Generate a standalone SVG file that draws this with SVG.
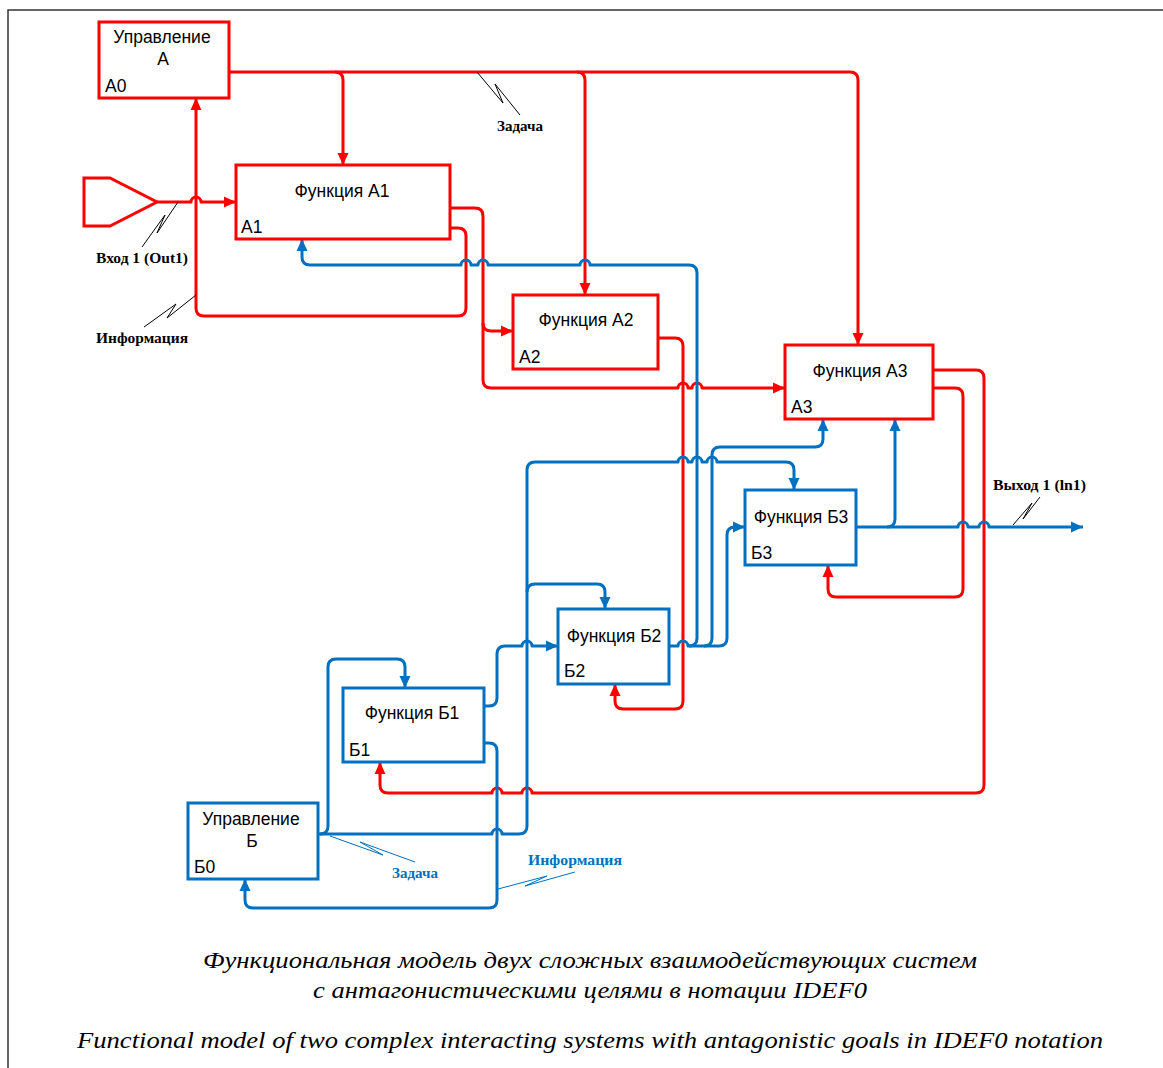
<svg xmlns="http://www.w3.org/2000/svg" width="1163" height="1068" viewBox="0 0 1163 1068">
<defs>
<style>
.box{fill:#fff;stroke-width:3}
.ra{stroke:#FF0000}
.ba{stroke:#0070C0}
.ln{fill:none;stroke-width:3;stroke-linejoin:round}
.r{stroke:#FF0000}
.b{stroke:#0070C0}
.t{font-family:"Liberation Sans",Arial,sans-serif;font-size:17.5px;fill:#000}
.c{text-anchor:middle}
.lbl{font-family:"Liberation Serif","Times New Roman",serif;font-weight:bold;font-size:14px;fill:#000}
.lblb{fill:#0070C0}
.sq{fill:none;stroke:#000;stroke-width:1}
.sqb{stroke:#0070C0}
.cap{font-family:"Liberation Serif","Times New Roman",serif;font-style:italic;font-size:24px;fill:#000;text-anchor:middle}
</style>
<marker id="mr" viewBox="0 0 12 12" refX="12" refY="6" markerWidth="12" markerHeight="12" markerUnits="userSpaceOnUse" orient="auto"><path d="M0,0.5 L12,6 L0,11.5 z" fill="#FF0000"/></marker>
<marker id="mb" viewBox="0 0 12 12" refX="12" refY="6" markerWidth="12" markerHeight="12" markerUnits="userSpaceOnUse" orient="auto"><path d="M0,0.5 L12,6 L0,11.5 z" fill="#0070C0"/></marker>
</defs>
<rect width="1163" height="1068" fill="#fff"/>
<path d="M8,1068 V10 H1163" fill="none" stroke="#333" stroke-width="1.5"/>

<g id="connectors">
<!-- A0 control outputs -->
<path class="ln r" d="M229,72 H850 Q858,72 858,80 V345" marker-end="url(#mr)"/>
<path class="ln r" d="M335,72 Q343,72 343,80 V165" marker-end="url(#mr)"/>
<path class="ln r" d="M577,72 Q585,72 585,80 V295" marker-end="url(#mr)"/>
<!-- input -->
<path class="ln r" d="M157,202 H191 a5,5 0 0 1 10,0 H236" marker-end="url(#mr)"/>
<!-- A1 lower output: information to A0 -->
<path class="ln r" d="M450,228 H458 Q466,228 466,236 V308 Q466,316 458,316 H204 Q196,316 196,308 V98" marker-end="url(#mr)"/>
<!-- A1 upper output to A2, A3 -->
<path class="ln r" d="M450,208 H475 Q483,208 483,216 V380 Q483,388 491,388 H678 a5,5 0 0 1 10,0 H692 a5,5 0 0 1 10,0 H785" marker-end="url(#mr)"/>
<path class="ln r" d="M483,323 Q483,331 491,331 H513" marker-end="url(#mr)"/>
<!-- A2 output to B2 -->
<path class="ln r" d="M658,338 H675 Q683,338 683,346 V701 Q683,709 675,709 H623 Q615,709 615,701 V684" marker-end="url(#mr)"/>
<!-- A3 outputs -->
<path class="ln r" d="M933,388 H955 Q963,388 963,396 V589 Q963,597 955,597 H836 Q828,597 828,589 V565" marker-end="url(#mr)"/>
<path class="ln r" d="M933,370 H976 Q984,370 984,378 V785 Q984,793 976,793 H532 a5,5 0 0 0 -10,0 H502 a5,5 0 0 0 -10,0 H388 Q380,793 380,785 V762" marker-end="url(#mr)"/>

<!-- B0 control outputs -->
<path class="ln b" d="M318,834 H492 a5,5 0 0 1 10,0 H519 Q527,834 527,826 V470 Q527,462 535,462 H678 a5,5 0 0 1 10,0 H692 a5,5 0 0 1 10,0 H707 a5,5 0 0 1 10,0 H786 Q794,462 794,470 V490" marker-end="url(#mb)"/>
<path class="ln b" d="M320,834 Q328,834 328,826 V667 Q328,659 336,659 H397 Q405,659 405,667 V688" marker-end="url(#mb)"/>
<path class="ln b" d="M527,592 Q527,584 535,584 H597 Q605,584 605,592 V609" marker-end="url(#mb)"/>
<!-- B1 outputs -->
<path class="ln b" d="M484,706 H489 Q497,706 497,698 V654 Q497,646 505,646 H522 a5,5 0 0 1 10,0 H558" marker-end="url(#mb)"/>
<path class="ln b" d="M484,743 H489 Q497,743 497,751 V900 Q497,908 489,908 H253 Q245,908 245,900 V879" marker-end="url(#mb)"/>
<!-- B2 outputs -->
<path class="ln b" d="M669,646 H678 a5,5 0 0 1 10,0 H719 Q727,646 727,638 V535 Q727,527 735,527 H745" marker-end="url(#mb)"/>
<path class="ln b" d="M689,646 Q697,646 697,638 V273 Q697,265 689,265 H590 a5,5 0 0 0 -10,0 H488 a5,5 0 0 0 -10,0 H471 a5,5 0 0 0 -10,0 H310 Q302,265 302,257 V239" marker-end="url(#mb)"/>
<path class="ln b" d="M704,646 Q712,646 712,638 V455 Q712,447 720,447 H815 Q823,447 823,439 V419" marker-end="url(#mb)"/>
<!-- B3 outputs -->
<path class="ln b" d="M856,527 H958 a5,5 0 0 1 10,0 H979 a5,5 0 0 1 10,0 H1083" marker-end="url(#mb)"/>
<path class="ln b" d="M887,527 Q895,527 895,519 V419" marker-end="url(#mb)"/>

<!-- label squiggles -->
<polyline class="sq" points="477,72 503,103 495,84 520,115"/>
<polyline class="sq" points="178,202 157,233 165,215 142,247"/>
<polyline class="sq" points="196,295 167,318 176,304 144,327"/>
<polyline class="sq" points="1013,525 1032,503 1023,519 1040,497"/>
<polyline class="sq sqb" points="330,836 383,855 360,842 415,862"/>
<polyline class="sq sqb" points="498,889 547,876 525,886 575,872"/>
</g>

<g id="input1">
<path d="M84,178 H110 L157,202 L110,226 H84 Z" fill="#fff" stroke="#FF0000" stroke-width="3" stroke-linejoin="miter"/>
</g>

<g id="A0">
<rect class="box ra" x="99" y="22" width="130" height="76"/>
<text class="t c" x="162" y="43">Управление</text>
<text class="t c" x="163" y="65">А</text>
<text class="t" x="105" y="92">А0</text>
</g>
<g id="A1">
<rect class="box ra" x="236" y="165" width="214" height="74"/>
<text class="t c" x="342" y="197">Функция А1</text>
<text class="t" x="241" y="233">А1</text>
</g>
<g id="A2">
<rect class="box ra" x="513" y="295" width="145" height="74"/>
<text class="t c" x="586" y="326">Функция А2</text>
<text class="t" x="519" y="363">А2</text>
</g>
<g id="A3">
<rect class="box ra" x="785" y="345" width="148" height="74"/>
<text class="t c" x="860" y="377">Функция А3</text>
<text class="t" x="791" y="413">А3</text>
</g>
<g id="B0">
<rect class="box ba" x="188" y="803" width="130" height="76"/>
<text class="t c" x="251" y="825">Управление</text>
<text class="t c" x="252" y="847">Б</text>
<text class="t" x="194" y="873">Б0</text>
</g>
<g id="B1">
<rect class="box ba" x="343" y="688" width="141" height="74"/>
<text class="t c" x="412" y="719">Функция Б1</text>
<text class="t" x="349" y="756">Б1</text>
</g>
<g id="B2">
<rect class="box ba" x="558" y="609" width="111" height="75"/>
<text class="t c" x="614" y="642">Функция Б2</text>
<text class="t" x="564" y="677">Б2</text>
</g>
<g id="B3">
<rect class="box ba" x="745" y="490" width="111" height="75"/>
<text class="t c" x="801" y="523">Функция Б3</text>
<text class="t" x="751" y="559">Б3</text>
</g>

<g id="labels">
<text class="lbl" x="497" y="131" textLength="46" lengthAdjust="spacingAndGlyphs">Задача</text>
<text class="lbl" x="96" y="263" textLength="92" lengthAdjust="spacingAndGlyphs">Вход 1 (Out1)</text>
<text class="lbl" x="96" y="343" textLength="92" lengthAdjust="spacingAndGlyphs">Информация</text>
<text class="lbl" x="993" y="490" textLength="93" lengthAdjust="spacingAndGlyphs">Выход 1 (ln1)</text>
<text class="lbl lblb" x="392" y="878" textLength="46" lengthAdjust="spacingAndGlyphs">Задача</text>
<text class="lbl lblb" x="528" y="865" textLength="94" lengthAdjust="spacingAndGlyphs">Информация</text>
</g>

<g id="caption">
<text class="cap" x="590" y="968" textLength="774" lengthAdjust="spacingAndGlyphs">Функциональная модель двух сложных взаимодействующих систем</text>
<text class="cap" x="590" y="998" textLength="554" lengthAdjust="spacingAndGlyphs">с антагонистическими целями в нотации IDEF0</text>
<text class="cap" x="590" y="1048" textLength="1026" lengthAdjust="spacingAndGlyphs">Functional model of two complex interacting systems with antagonistic goals in IDEF0 notation</text>
</g>
</svg>
